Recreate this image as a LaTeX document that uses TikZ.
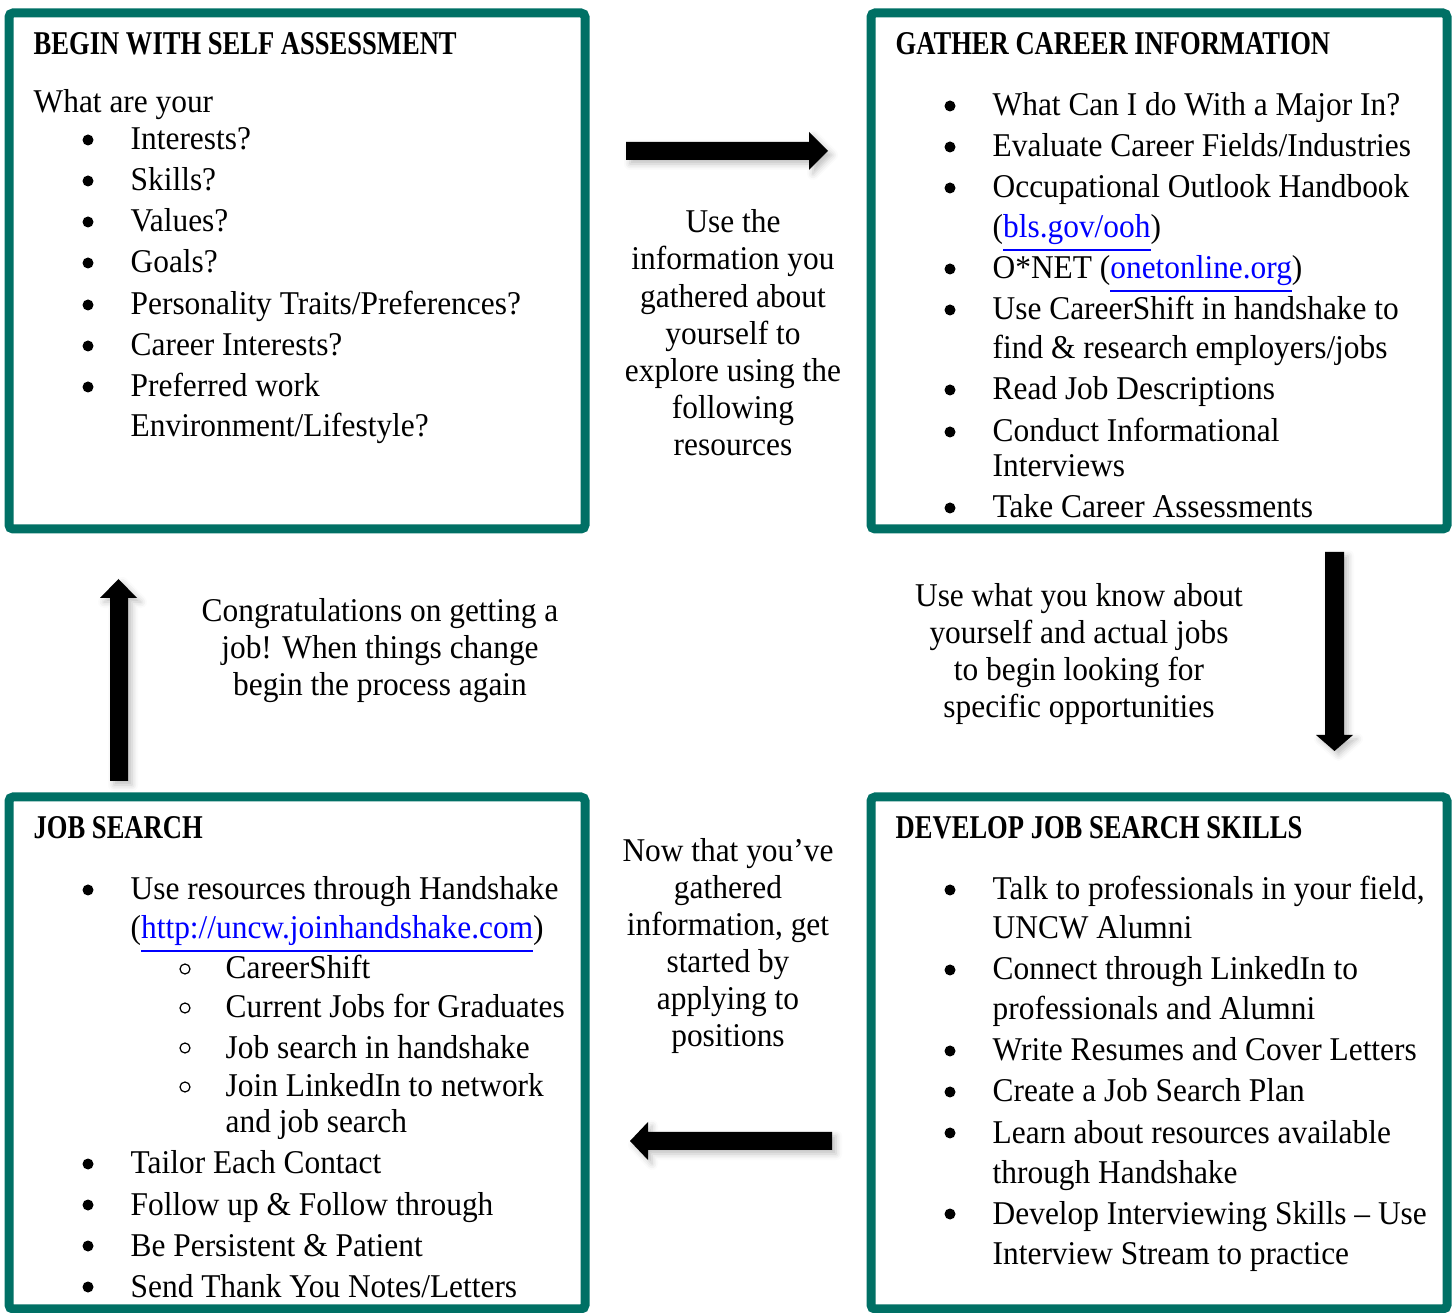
\documentclass[tikz,border=0pt]{standalone}
\usepackage{fontspec}
\setmainfont[FakeStretch=0.945]{Liberation Serif}
\newfontfamily\headfont[FakeStretch=0.80]{Liberation Serif}
\usepackage{xcolor}
\usepackage{tikz}
\usetikzlibrary{positioning,shadows.blur}
\definecolor{uncwteal}{RGB}{0,112,101}
\definecolor{linkblue}{RGB}{0,0,255}

\begin{document}
\begin{tikzpicture}[x=0.1mm, y=-0.1mm,
    cardbox/.style={draw=uncwteal, line width=0.9mm, rounded corners=0.4mm, inner sep=0, fill=white},
    txt/.style={anchor=base west, inner sep=0, font=\fontsize{9.45}{11}\selectfont},
    head/.style={anchor=base west, inner sep=0, font=\fontsize{9.45}{11}\selectfont\headfont\bfseries},
    mid/.style={anchor=base, inner sep=0, font=\fontsize{9.45}{11}\selectfont},
    blockarrow/.style={fill=black, blur shadow={shadow xshift=0.4mm, shadow yshift=-0.4mm, shadow blur radius=0.6mm, shadow opacity=25}},
  ]
  \useasboundingbox (0,0) rectangle (1453,1313);

  % Boxes
  \node[cardbox, minimum width=57.6mm, minimum height=51.6mm] (self) at (297,271) {};
  \node[cardbox, minimum width=57.6mm, minimum height=51.6mm] (career) at (1159,271) {};
  \node[cardbox, minimum width=57.6mm, minimum height=51.2mm] (search) at (297,1053) {};
  \node[cardbox, minimum width=57.6mm, minimum height=51.2mm] (skills) at (1159,1053) {};

  % Block arrows
  \fill[blockarrow] (626,142) -- (809,142) -- (809,132) -- (828,151) -- (809,170) -- (809,160) -- (626,160) -- cycle;
  \fill[blockarrow] (1325,552) -- (1344,552) -- (1344,735) -- (1353,735) -- (1334.5,751) -- (1316,735) -- (1325,735) -- cycle;
  \fill[blockarrow] (832,1132) -- (648,1132) -- (648,1122) -- (630,1141) -- (648,1160) -- (648,1150) -- (832,1150) -- cycle;
  \fill[blockarrow] (110,781) -- (110,598) -- (100,598) -- (118.5,579) -- (137,598) -- (128,598) -- (128,781) -- cycle;

  % Begin with self assessment (top left)
  \node[head] (self-t) at (33,55) {BEGIN WITH SELF ASSESSMENT};
  \node[txt] (self-q) at (33,113) {What are your};
  \foreach \y in {150,191,232,273,315,356,397} \fill (88,\y-10) circle (0.55mm);
  \node[txt] (self-1) at (130,150) {Interests?};
  \node[txt] (self-2) at (130,191) {Skills?};
  \node[txt] (self-3) at (130,232) {Values?};
  \node[txt] (self-4) at (130,273) {Goals?};
  \node[txt] (self-5) at (130,315) {Personality Traits/Preferences?};
  \node[txt] (self-6) at (130,356) {Career Interests?};
  \node[txt] (self-7) at (130,397) {Preferred work};
  \node[txt] (self-7b) at (130,437) {Environment/Lifestyle?};

  % Gather career information (top right)
  \node[head] (car-t) at (895,55) {GATHER CAREER INFORMATION};
  \foreach \y in {116,157,198,279,320,400,442,518} \fill (950,\y-10) circle (0.55mm);
  \node[txt] (car-1) at (992,116) {What Can I do With a Major In?};
  \node[txt] (car-2) at (992,157) {Evaluate Career Fields/Industries};
  \node[txt] (car-3) at (992,198) {Occupational Outlook Handbook};
  \node[txt] (car-3b) at (992,238) {({\color{linkblue}\underline{bls.gov/ooh}})};
  \node[txt] (car-4) at (992,279) {O*NET ({\color{linkblue}\underline{onetonline.org}})};
  \node[txt] (car-5) at (992,320) {Use CareerShift in handshake to};
  \node[txt] (car-5b) at (992,359) {find \& research employers/jobs};
  \node[txt] (car-6) at (992,400) {Read Job Descriptions};
  \node[txt] (car-7) at (992,442) {Conduct Informational};
  \node[txt] (car-7b) at (992,477) {Interviews};
  \node[txt] (car-8) at (992,518) {Take Career Assessments};

  % Job search (bottom left)
  \node[head] (job-t) at (33,839) {JOB SEARCH};
  \foreach \y in {900,1174,1215,1256,1297} \fill (88,\y-10) circle (0.55mm);
  \node[txt] (job-1) at (130,900) {Use resources through Handshake};
  \node[txt] (job-1b) at (130,939) {({\color{linkblue}\underline{http://uncw.joinhandshake.com}})};
  \foreach \y in {979,1018,1058,1097} \draw[line width=0.12mm] (185,\y-10) circle (0.5mm);
  \node[txt] (job-s1) at (225,979) {CareerShift};
  \node[txt] (job-s2) at (225,1018) {Current Jobs for Graduates};
  \node[txt] (job-s3) at (225,1058) {Job search in handshake};
  \node[txt] (job-s4) at (225,1097) {Join LinkedIn to network};
  \node[txt] (job-s4b) at (225,1133) {and job search};
  \node[txt] (job-2) at (130,1174) {Tailor Each Contact};
  \node[txt] (job-3) at (130,1215) {Follow up \& Follow through};
  \node[txt] (job-4) at (130,1256) {Be Persistent \& Patient};
  \node[txt] (job-5) at (130,1297) {Send Thank You Notes/Letters};

  % Develop job search skills (bottom right)
  \node[head] (dev-t) at (895,839) {DEVELOP JOB SEARCH SKILLS};
  \foreach \y in {900,980,1061,1102,1143,1224} \fill (950,\y-10) circle (0.55mm);
  \node[txt] (dev-1) at (992,900) {Talk to professionals in your field,};
  \node[txt] (dev-1b) at (992,939) {UNCW Alumni};
  \node[txt] (dev-2) at (992,980) {Connect through LinkedIn to};
  \node[txt] (dev-2b) at (992,1020) {professionals and Alumni};
  \node[txt] (dev-3) at (992,1061) {Write Resumes and Cover Letters};
  \node[txt] (dev-4) at (992,1102) {Create a Job Search Plan};
  \node[txt] (dev-5) at (992,1143) {Learn about resources available};
  \node[txt] (dev-5b) at (992,1183) {through Handshake};
  \node[txt] (dev-6) at (992,1224) {Develop Interviewing Skills – Use};
  \node[txt] (dev-6b) at (992,1264) {Interview Stream to practice};

  % Step captions between the boxes
  \node[mid] (cap-a1) at (733,233) {Use the};
  \node[mid] (cap-a2) at (733,270) {information you};
  \node[mid] (cap-a3) at (733,308) {gathered about};
  \node[mid] (cap-a4) at (733,345) {yourself to};
  \node[mid] (cap-a5) at (733,382) {explore using the};
  \node[mid] (cap-a6) at (733,419) {following};
  \node[mid] (cap-a7) at (733,456) {resources};

  \node[mid] (cap-b1) at (1079,607) {Use what you know about};
  \node[mid] (cap-b2) at (1079,644) {yourself and actual jobs};
  \node[mid] (cap-b3) at (1079,681) {to begin looking for};
  \node[mid] (cap-b4) at (1079,718) {specific opportunities};

  \node[mid] (cap-c1) at (728,862) {Now that you’ve};
  \node[mid] (cap-c2) at (728,899) {gathered};
  \node[mid] (cap-c3) at (728,936) {information, get};
  \node[mid] (cap-c4) at (728,973) {started by};
  \node[mid] (cap-c5) at (728,1010) {applying to};
  \node[mid] (cap-c6) at (728,1047) {positions};

  \node[mid] (cap-d1) at (380,622) {Congratulations on getting a};
  \node[mid] (cap-d2) at (380,659) {job! When things change};
  \node[mid] (cap-d3) at (380,696) {begin the process again};
\end{tikzpicture}
\end{document}
